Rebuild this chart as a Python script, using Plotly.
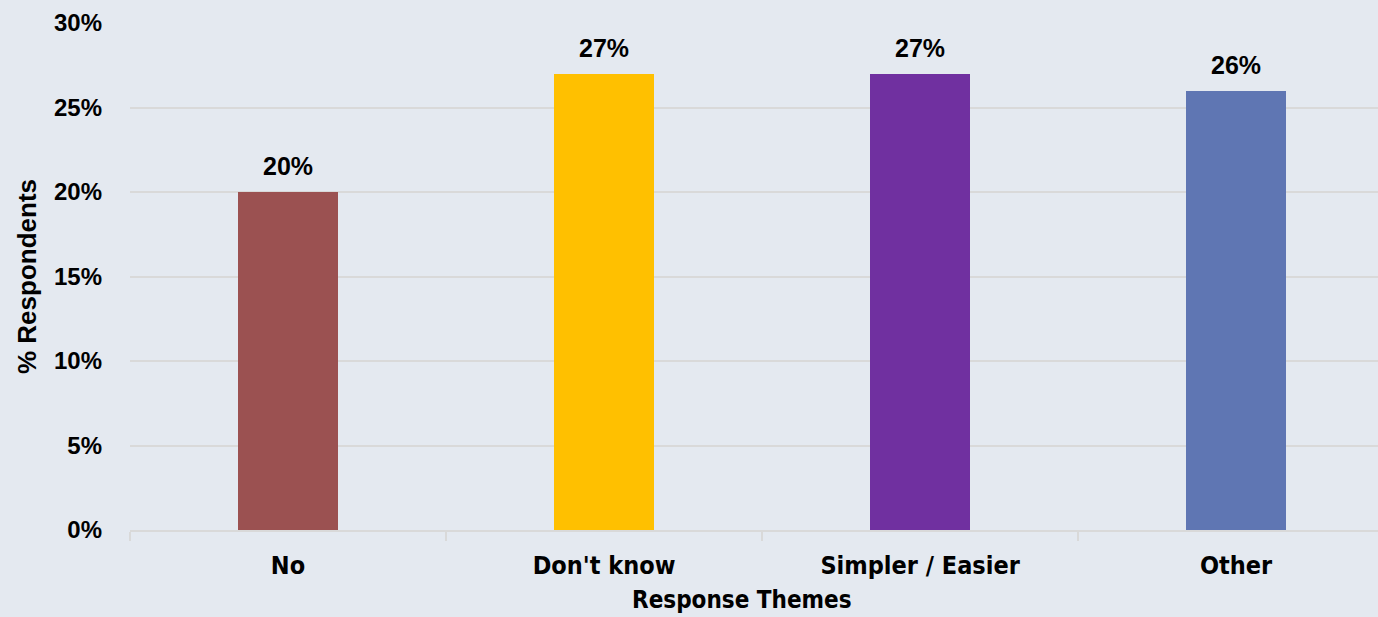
import plotly.graph_objects as go

categories = ["No", "Don't know", "Simpler / Easier", "Other"]
values = [20, 27, 27, 26]
colors = ["#9B5151", "#FFC000", "#7030A0", "#5F76B3"]
tick_vals = [0, 5, 10, 15, 20, 25, 30]
tick_text = ["<b>0%</b>", "<b>5%</b>", "<b>10%</b>", "<b>15%</b>", "<b>20%</b>", "<b>25%</b>", "<b>30%</b>"]

BG = "#E4E9F0"
cond = "DejaVu Sans Condensed, Liberation Sans Narrow, Arial Narrow, sans-serif"
sans = "Liberation Sans, Arial, sans-serif"

fig = go.Figure()
fig.add_trace(go.Bar(
    x=categories, y=values, marker=dict(color=colors, line=dict(width=0)),
    width=0.316, showlegend=False, hoverinfo="skip",
))
for c, v in zip(categories, values):
    fig.add_annotation(x=c, y=v, text="<b>%d%%</b>" % v, showarrow=False,
                       yanchor="bottom", yshift=10,
                       font=dict(family=sans, size=25, color="#000000"))

fig.add_annotation(xref="paper", yref="paper", x=0.4904, y=-0.138, yanchor="middle",
                   text="<b>Response Themes</b>", showarrow=False,
                   font=dict(family=cond, size=24, color="#000000"))

fig.update_layout(
    width=1378, height=617,
    margin=dict(l=130, r=0, t=23, b=87),
    paper_bgcolor=BG, plot_bgcolor=BG,
    bargap=0,
    xaxis=dict(
        range=[-0.5, 3.449], showgrid=False, showline=True, linecolor="#D9D9D9", linewidth=2,
        ticks="outside", tickson="boundaries", ticklen=9, tickcolor="#D9D9D9", tickwidth=2,
        ticktext=["<b>%s</b>" % c for c in categories], tickvals=categories,
        ticklabelstandoff=12,
        tickfont=dict(family=cond, size=25, color="#000000"),
        fixedrange=True,
    ),
    yaxis=dict(
        range=[0, 30], tickvals=tick_vals, ticktext=tick_text,
        showgrid=True, gridcolor="#D9D9D9", gridwidth=2, zeroline=False,
        showline=False, ticks="", ticklabelstandoff=27,
        tickfont=dict(family=sans, size=24, color="#000000"),
        title=dict(text="<b>% Respondents</b>", font=dict(family=sans, size=26, color="#000000"), standoff=9),
        fixedrange=True,
    ),
)
fig.write_html("out.html")
